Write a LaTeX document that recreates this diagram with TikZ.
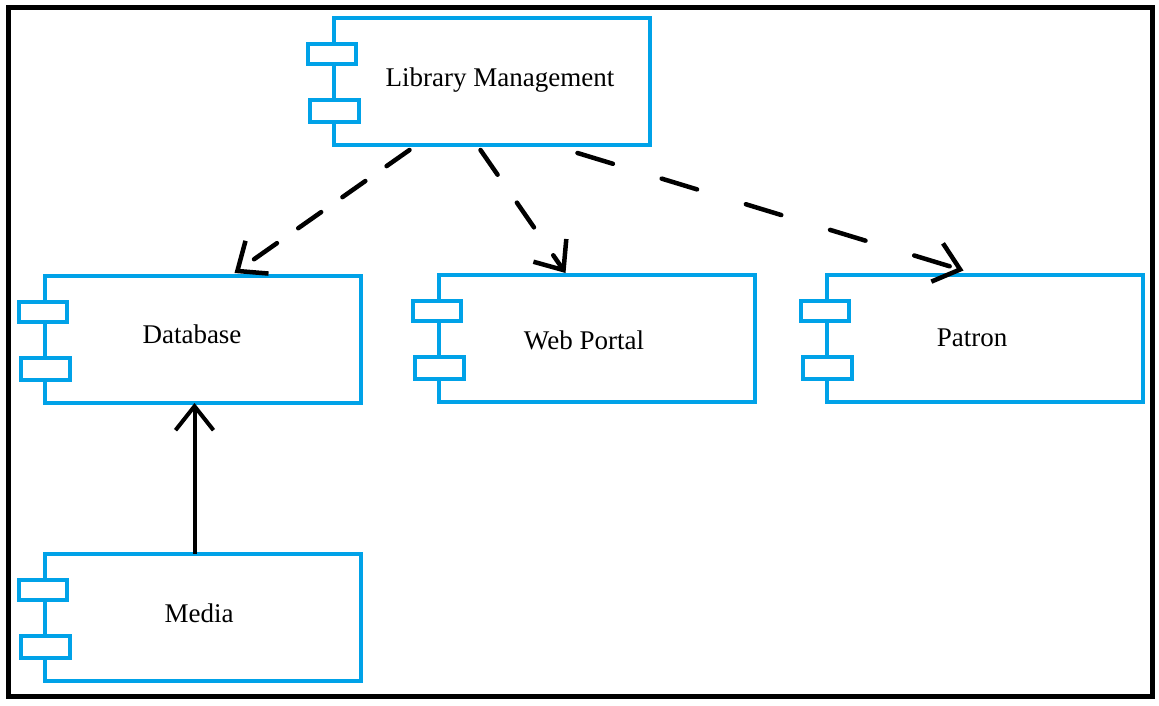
\documentclass[tikz,border=0pt]{standalone}
\usepackage{fontspec}
\setmainfont{Liberation Serif}
\usetikzlibrary{calc}
\usetikzlibrary{arrows.meta}
\definecolor{paintblue}{RGB}{0,162,232}
\tikzset{
  comp/.style={draw=paintblue, line width=4pt, minimum width=316pt, minimum height=127pt, inner sep=0pt, outer sep=0pt},
  port/.style={draw=paintblue, fill=white, line width=4pt},
  ctext/.style={anchor=base, inner sep=0pt, font=\fontsize{27}{30}\selectfont},
  dep/.style={line width=4.5pt, line cap=round, dash pattern=on 28pt off 26pt, -{Straight Barb[length=24pt,width=40pt]}},
  uses/.style={line width=4pt, -{Straight Barb[length=24pt,width=38pt]}}
}
\begin{document}
\begin{tikzpicture}[x=1pt, y=-1pt]
  \useasboundingbox (0,0) rectangle (1159,706);
  \draw [line width=5pt] (8,8) rectangle (1152,696);

  \node [comp] (lib) at (491.5,81.5) {};
  \node [comp] (db) at (202.5,339.5) {};
  \node [comp] (wp) at (596.5,338.5) {};
  \node [comp] (pat) at (984.5,338) {};
  \node [comp] (med) at (202.5,617) {};

  \foreach \c in {lib,db,wp,pat,med} {
    \draw [port] ($ (\c.north west)+(-26,26) $) rectangle ++(48,20);
    \draw [port] ($ (\c.north west)+(-24,82) $) rectangle ++(49,22);
  }

  \node [ctext] (libt) at (500,87) {Library Management};
  \node [ctext] (dbt) at (192,343) {Database};
  \node [ctext] (wpt) at (584,349) {Web Portal};
  \node [ctext] (patt) at (972,346) {Patron};
  \node [ctext] (medt) at (199,622) {Media};

  \draw [dep] ([xshift=-82pt,yshift=-5pt]lib.south) -- ([xshift=32pt,yshift=3pt]db.north);
  \draw [dep, dash pattern=on 30pt off 34pt] ([xshift=-11pt,yshift=-5pt]lib.south) -- ([xshift=-31pt,yshift=2pt]wp.north);
  \draw [dep, dash pattern=on 37pt off 51pt] ([xshift=86pt,yshift=-8pt]lib.south) -- ([xshift=-21pt,yshift=4pt]pat.north);
  \draw [uses] ([xshift=-8pt]med.north) -- ([xshift=-8pt]db.south);
\end{tikzpicture}
\end{document}
